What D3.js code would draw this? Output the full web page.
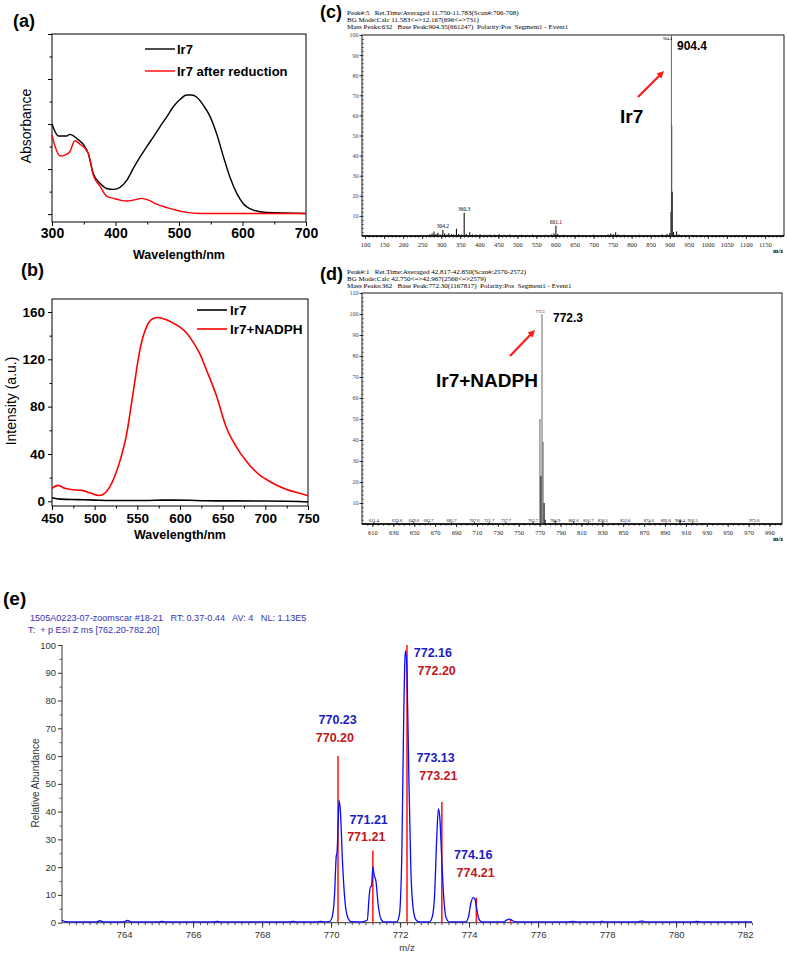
<!DOCTYPE html>
<html><head><meta charset="utf-8">
<script src="https://cdn.jsdelivr.net/npm/d3@7"></script>
<style>body{margin:0;background:#fff}svg{display:block}text{white-space:pre}</style>
</head><body>
<svg id="fig" width="787" height="953"></svg>
<script>
// ---------------- DATA ----------------
// (a) UV-vis absorbance [wavelength nm, absorbance a.u.]
const absIr7 = [[300,0.400],[310,0.347],[323,0.347],[328,0.354],[339,0.336],[352,0.299],[357,0.270],[365,0.181],[376,0.136],[386,0.114],[397,0.110],[407,0.119],[418,0.151],[428,0.203],[439,0.255],[449,0.299],[460,0.344],[470,0.388],[481,0.433],[491,0.477],[502,0.510],[512,0.529],[520,0.529],[528,0.519],[538,0.485],[549,0.433],[559,0.359],[570,0.255],[580,0.166],[591,0.092],[601,0.047],[617,0.018],[638,0.007],[700,0.003]];
const absIr7Reduced = [[300,0.351],[305,0.299],[313,0.258],[320,0.262],[328,0.277],[336,0.326],[344,0.311],[352,0.292],[357,0.270],[365,0.174],[376,0.122],[386,0.080],[397,0.070],[407,0.062],[418,0.058],[428,0.062],[441,0.070],[452,0.062],[465,0.044],[481,0.029],[496,0.017],[512,0.008],[533,0.003],[700,0.003]];
const absXTicks = [300,400,500,600,700];
const absLegend = ["Ir7","Ir7 after reduction"];

// (b) emission intensity [wavelength nm, intensity a.u.]
const flIr7 = [[450,3],[460,1.8],[480,1.4],[500,1],[530,0.6],[560,0.6],[580,1],[610,0.8],[630,0.4],[660,0.3],[700,0.2],[740,-0.2],[750,-0.6]];
const flIr7Nadph = [[450,11],[457,13.4],[465,11],[475,9.7],[485,9.2],[495,6.9],[505,4.9],[512,6.9],[520,15.4],[530,35],[537,55],[545,91.5],[553,128],[561,147.8],[568,154.3],[574,155.4],[584,153.4],[592,150.6],[600,147.2],[608,142],[615,135],[623,125],[631,111],[643,88.6],[654,63],[666,46],[678,33.6],[693,22.4],[700,19],[712,14],[725,10],[740,6.8],[750,4.6]];
const flXTicks = [450,500,550,600,650,700,750];
const flYTicks = [0,40,80,120,160];
const flLegend = ["Ir7","Ir7+NADPH"];

// (c) ESI-MS of Ir7 [m/z, relative intensity]
const msIr7Header = ["Peak#:5   Ret.Time:Averaged 11.750-11.783(Scan#:706-708)","BG Mode:Calc 11.583<=>12.167(696<=>731)","Mass Peaks:632   Base Peak:904.35(661247)  Polarity:Pos  Segment1 - Event1"];
const msIr7Peaks = [[270,0.8],[276,1.2],[281,2.2],[286,1.0],[291,1.6],[297,0.8],[304.2,3.0],[309,1.2],[315,0.8],[320,1.4],[327,0.9],[333,0.7],[340,3.6],[346,1.0],[353,0.8],[360.3,11.6],[366,1.0],[375,1.9],[382,0.8],[391,0.7],[402,0.9],[415,0.6],[428,0.8],[440,0.7],[452,0.9],[465,0.6],[480,0.7],[495,0.5],[510,0.6],[525,0.5],[540,0.7],[556,0.5],[575,0.6],[590,0.8],[596,1.4],[601.1,5.1],[606,1.0],[620,0.6],[640,0.5],[660,0.6],[680,0.5],[700,0.6],[720,0.5],[738,0.8],[745,1.2],[752,0.9],[758,1.9],[765,0.8],[780,0.6],[800,0.5],[820,0.6],[840,0.5],[860,0.6],[880,0.7],[893,1.0],[900,1.5],[903.4,12],[904.4,100],[905.4,55],[906.4,22],[910,2],[918,2.3],[925,0.8],[940,0.5],[960,0.4],[980,0.4],[1000,0.3]];
const msIr7Labels = [[304.2,3.0,"304.2"],[360.3,11.6,"360.3"],[601.1,5.1,"601.1"]];
const msIr7XTicks = [100,150,200,250,300,350,400,450,500,550,600,650,700,750,800,850,900,950,1000,1050,1100,1150];
const msIr7YTicks = [10,20,30,40,50,60,70,80,90,100];

// (d) ESI-MS of Ir7 + NADPH
const msNadphHeader = ["Peak#:1   Ret.Time:Averaged 42.817-42.850(Scan#:2570-2572)","BG Mode:Calc 42.750<=>42.967(2566<=>2579)","Mass Peaks:362   Base Peak:772.30(1167817)  Polarity:Pos  Segment1 - Event1"];
const msNadphPeaks = [[611.4,1.0],[633.6,0.8],[649.6,0.8],[663.7,0.8],[685.7,0.8],[707.6,0.8],[721.7,0.8],[737.7,0.8],[763.7,1.0],[770.3,50],[771.3,23],[772.3,100],[773.3,39],[774.3,10],[775.3,2],[784.9,1.6],[802.6,1.2],[816.7,0.8],[830.5,1.0],[852.0,0.6],[874.6,0.6],[891.0,0.7],[904.4,2.0],[916.5,0.8],[975.6,0.5]];
const msNadphLabels = ["611.4","633.6","649.6","663.7","685.7","707.6","721.7","737.7","763.7","784.9","802.6","816.7","830.5","852.0","874.6","891.0","904.4","916.5","975.6"];
const msNadphXTicks = [610,630,650,670,690,710,730,750,770,790,810,830,850,870,890,910,930,950,970,990];
const msNadphYTicks = [10,20,30,40,50,60,70,80,90,100,110];

// (e) HRMS: measured profile (blue) and theoretical isotope sticks (red)
const hrmsHeader = ["1505A0223-07-zoomscar #18-21   RT: 0.37-0.44   AV: 4   NL: 1.13E5","T:  + p ESI Z ms [762.20-782.20]"];
const hrmsProfile = [[762.2,0.9],[762.3,0.4],[762.5,0.3],[763.2,0.3],[763.3,0.7],[763.4,0.3],[764.0,0.3],[764.1,0.8],[764.2,0.3],[765.0,0.3],[765.1,0.5],[765.2,0.3],[766,0.3],[766.6,0.3],[766.7,0.5],[766.8,0.3],[768,0.3],[768.8,0.3],[768.9,0.5],[769,0.3],[769.6,0.3],[769.7,0.5],[769.8,0.3],[769.95,0.4],[770.03,2],[770.1,10],[770.15,24],[770.17,25],[770.19,30],[770.23,44],[770.27,40],[770.33,22],[770.4,8],[770.48,2],[770.58,0.4],[770.9,0.3],[771.05,1],[771.1,9],[771.14,13],[771.17,13],[771.21,20],[771.25,17],[771.3,15],[771.36,7],[771.44,1.5],[771.52,0.3],[771.9,0.3],[771.98,3],[772.05,25],[772.1,70],[772.14,95],[772.16,98],[772.2,90],[772.25,55],[772.31,20],[772.38,5],[772.46,1],[772.55,0.3],[772.85,0.3],[772.93,2],[773.0,10],[773.06,30],[773.11,41],[773.15,38],[773.2,25],[773.26,10],[773.33,2],[773.42,0.3],[773.9,0.3],[773.98,2],[774.05,7],[774.12,9],[774.17,8.5],[774.22,5],[774.28,1.5],[774.36,0.3],[775.0,0.3],[775.1,1],[775.17,1.3],[775.25,0.8],[775.35,0.3],[776.9,0.3],[777.0,0.5],[777.1,0.3],[777.8,0.3],[777.85,0.6],[777.9,0.3],[778.9,0.3],[779.0,0.6],[779.1,0.3],[780.5,0.3],[780.6,0.5],[780.7,0.3],[782.2,0.3]];
const hrmsTheory = [[770.20,60],[771.21,26],[772.20,100],[773.21,43.5],[774.21,9],[775.2,1]];
// measured-peak labels (blue): [m/z anchor, abundance anchor, text]
const hrmsMeasLabels = [[770.19,71.4,"770.23"],[771.09,35.5,"771.21"],[772.95,95.5,"772.16"],[773.03,58.0,"773.13"],[774.12,23.0,"774.16"]];
// theoretical-peak labels (red): [m/z anchor, abundance anchor, text]
const hrmsTheoLabels = [[770.11,65.0,"770.20"],[771.02,29.3,"771.21"],[773.06,89.1,"772.20"],[773.11,51.3,"773.21"],[774.19,16.5,"774.21"]];
const hrmsXTicks = [764,766,768,770,772,774,776,778,780,782];
const hrmsYTicks = [0,10,20,30,40,50,60,70,80,90,100];

// ---------------- DRAWING ----------------
const SANS = "'Liberation Sans', Arial, Helvetica, sans-serif";
const SERIF = "'Liberation Serif', 'Times New Roman', serif";
const svg = d3.select('#fig');

function addText(g, x, y, s, o = {}) {
  return g.append('text').attr('x', x).attr('y', y).text(s)
    .attr('font-family', o.family || SANS).attr('font-size', o.size || 12)
    .attr('font-weight', o.weight || 'normal').attr('fill', o.fill || '#000')
    .attr('text-anchor', o.anchor || 'start')
    .attr('transform', o.rotate ? `rotate(${o.rotate},${x},${y})` : null);
}
function styleAxis(sel, o) {
  sel.select('.domain').remove();
  sel.selectAll('.tick line').attr('stroke', o.stroke || '#000').attr('stroke-width', o.sw || 1);
  sel.selectAll('.tick text').attr('font-family', o.family || SANS).attr('font-size', o.size || 12)
    .attr('font-weight', o.weight || 'normal').attr('fill', o.fill || '#000');
}
function frame(g, xs, ys, sw) {
  const [x0, x1] = xs.range(), [y0, y1] = ys.range();
  g.append('rect').attr('x', x0).attr('y', y1).attr('width', x1 - x0).attr('height', y0 - y1)
    .attr('fill', 'none').attr('stroke', '#000').attr('stroke-width', sw || 1);
}
function minorRange(a, b, step) { const r = []; for (let v = a; v <= b + 1e-9; v += step) r.push(+v.toFixed(4)); return r; }

// ===== (a) =====
{
  const g = svg.append('g');
  const x = d3.scaleLinear().domain([300, 700]).range([52, 306]);
  const y = d3.scaleLinear().domain([-0.035, 0.8]).range([222, 34]);
  frame(g, x, y, 1);
  g.append('g').attr('transform', `translate(0,${y.range()[0]})`)
    .call(d3.axisBottom(x).tickValues(absXTicks).tickSize(4).tickSizeOuter(0).tickPadding(2))
    .call(styleAxis, { size: 14, weight: 'bold' });
  g.append('g').attr('transform', `translate(0,${y.range()[0]})`)
    .call(d3.axisBottom(x).tickValues(minorRange(350, 650, 100)).tickSize(2.5).tickFormat(''))
    .call(styleAxis, {});
  g.append('g').attr('transform', `translate(${x.range()[0]},0)`)
    .call(d3.axisLeft(y).tickValues(minorRange(0, 0.8, 0.2)).tickSize(4).tickFormat(''))
    .call(styleAxis, {});
  g.append('g').attr('transform', `translate(${x.range()[0]},0)`)
    .call(d3.axisLeft(y).tickValues(minorRange(0.1, 0.7, 0.2)).tickSize(2.5).tickFormat(''))
    .call(styleAxis, {});
  const line = d3.line().x(d => x(d[0])).y(d => y(d[1])).curve(d3.curveMonotoneX);
  g.append('path').datum(absIr7).attr('d', line).attr('fill', 'none').attr('stroke', '#000').attr('stroke-width', 1.4);
  g.append('path').datum(absIr7Reduced).attr('d', line).attr('fill', 'none').attr('stroke', '#ff0000').attr('stroke-width', 1.4);
  [['#000', 49], ['#ff0000', 71]].forEach((c, i) => {
    g.append('line').attr('x1', 145).attr('x2', 175).attr('y1', c[1]).attr('y2', c[1]).attr('stroke', c[0]).attr('stroke-width', 1.4);
    addText(g, 177, c[1] + 4.5, absLegend[i], { size: 13, weight: 'bold' });
  });
  addText(g, 13, 27, '(a)', { size: 18, weight: 'bold' });
  addText(g, 31, 126, 'Absorbance', { size: 14, anchor: 'middle', rotate: -90 });
  addText(g, 179, 259, 'Wavelength/nm', { size: 12.5, weight: 'bold', anchor: 'middle' });
}

// ===== (b) =====
{
  const g = svg.append('g');
  const x = d3.scaleLinear().domain([450, 750]).range([52, 308]);
  const y = d3.scaleLinear().domain([-4, 171]).range([506, 299]);
  frame(g, x, y, 1);
  g.append('g').attr('transform', `translate(0,${y.range()[0]})`)
    .call(d3.axisBottom(x).tickValues(flXTicks).tickSize(4).tickSizeOuter(0).tickPadding(3))
    .call(styleAxis, { size: 13.5, weight: 'bold' });
  g.append('g').attr('transform', `translate(0,${y.range()[0]})`)
    .call(d3.axisBottom(x).tickValues(minorRange(475, 725, 50)).tickSize(2.5).tickFormat(''))
    .call(styleAxis, {});
  g.append('g').attr('transform', `translate(${x.range()[0]},0)`)
    .call(d3.axisLeft(y).tickValues(flYTicks).tickSize(4).tickSizeOuter(0).tickPadding(3))
    .call(styleAxis, { size: 13.5, weight: 'bold' });
  g.append('g').attr('transform', `translate(${x.range()[0]},0)`)
    .call(d3.axisLeft(y).tickValues(minorRange(20, 140, 40)).tickSize(2.5).tickFormat(''))
    .call(styleAxis, {});
  const line = d3.line().x(d => x(d[0])).y(d => y(d[1])).curve(d3.curveMonotoneX);
  g.append('path').datum(flIr7).attr('d', line).attr('fill', 'none').attr('stroke', '#000').attr('stroke-width', 1.6);
  g.append('path').datum(flIr7Nadph).attr('d', line).attr('fill', 'none').attr('stroke', '#ff0000').attr('stroke-width', 1.6);
  [['#000', 310], ['#ff0000', 329]].forEach((c, i) => {
    g.append('line').attr('x1', 197).attr('x2', 227).attr('y1', c[1]).attr('y2', c[1]).attr('stroke', c[0]).attr('stroke-width', 1.6);
    addText(g, 230, c[1] + 5, flLegend[i], { size: 13.5, weight: 'bold' });
  });
  addText(g, 21, 276, '(b)', { size: 18, weight: 'bold' });
  addText(g, 16, 401, 'Intensity (a.u.)', { size: 14, anchor: 'middle', rotate: -90 });
  addText(g, 180, 539, 'Wavelength/nm', { size: 12.5, weight: 'bold', anchor: 'middle' });
}

// ===== mass-spec panels (c) & (d) =====
function msPanel(o) {
  const g = svg.append('g');
  const x = o.x, y = o.y;
  frame(g, x, y, 0.9);
  o.header.forEach((s, i) => addText(g, 347, o.headerY + i * 7, s, { family: SERIF, size: 7 }));
  addText(g, 320, o.labelY, o.label, { size: 18, weight: 'bold' });
  g.append('g').attr('transform', `translate(0,${y.range()[0]})`)
    .call(d3.axisBottom(x).tickValues(o.xTicks).tickSize(3).tickSizeOuter(0).tickPadding(3).tickFormat(d3.format('d')))
    .call(styleAxis, { family: SERIF, size: 6.5, fill: '#222', sw: 0.8 });
  g.append('g').attr('transform', `translate(0,${y.range()[0]})`)
    .call(d3.axisBottom(x).tickValues(o.xMinor).tickSize(1.8).tickFormat(''))
    .call(styleAxis, { sw: 0.6 });
  g.append('g').attr('transform', `translate(${x.range()[0]},0)`)
    .call(d3.axisLeft(y).tickValues(o.yTicks).tickSize(2.5).tickSizeOuter(0).tickPadding(1))
    .call(styleAxis, { family: SERIF, size: 6, fill: '#445', sw: 0.8 });
  g.append('g').attr('transform', `translate(${x.range()[0]},0)`)
    .call(d3.axisRight(y).tickValues(o.yMinor).tickSize(1.8).tickFormat(''))
    .call(styleAxis, { sw: 0.6 });
  g.append('line').attr('x1', x.range()[0]).attr('x2', x.range()[1]).attr('y1', y.range()[0]).attr('y2', y.range()[0])
    .attr('stroke', '#000').attr('stroke-width', 1.6);
  g.selectAll('line.pk').data(o.peaks).enter().append('line').attr('class', 'pk')
    .attr('x1', d => x(d[0])).attr('x2', d => x(d[0]))
    .attr('y1', y(0)).attr('y2', d => y(d[1]))
    .attr('stroke', d => d[1] > 30 ? '#555' : '#111').attr('stroke-width', d => d[1] > 30 ? 0.9 : 1.1);
  addText(g, 773, y.range()[0] + 17, 'm/z', { family: SERIF, size: 6.5, weight: 'bold' });
  return { g, x, y };
}
function arrow(g, x1, y1, x2, y2) {
  const a = Math.atan2(y2 - y1, x2 - x1), L = 7, W = 3.5;
  g.append('line').attr('x1', x1).attr('y1', y1).attr('x2', x2 - L * 0.8 * Math.cos(a)).attr('y2', y2 - L * 0.8 * Math.sin(a))
    .attr('stroke', '#ff1a1a').attr('stroke-width', 2.2);
  const p = [[x2, y2],
    [x2 - L * Math.cos(a) + W * Math.sin(a), y2 - L * Math.sin(a) - W * Math.cos(a)],
    [x2 - L * Math.cos(a) - W * Math.sin(a), y2 - L * Math.sin(a) + W * Math.cos(a)]];
  g.append('path').attr('d', 'M' + p.join('L') + 'Z').attr('fill', '#ff1a1a');
}

// (c)
{
  const P = msPanel({
    x: d3.scaleLinear().domain([92, 1200]).range([362, 784]),
    y: d3.scaleLinear().domain([0, 100]).range([236, 35]),
    header: msIr7Header, headerY: 14.5, label: '(c)', labelY: 17.5,
    xTicks: msIr7XTicks, xMinor: minorRange(100, 1190, 10),
    yTicks: msIr7YTicks, yMinor: minorRange(2, 98, 2),
    peaks: msIr7Peaks
  });
  msIr7Labels.forEach(d => addText(P.g, P.x(d[0]), P.y(d[1]) - 1.5, d[2], { family: SERIF, size: 5.5, anchor: 'middle' }));
  addText(P.g, P.x(904.4) - 4, 40, '904.4', { family: SERIF, size: 4, anchor: 'middle' });
  addText(P.g, 677, 50, '904.4', { size: 12, weight: 'bold' });
  addText(P.g, 620, 123, 'Ir7', { size: 19, weight: 'bold' });
  arrow(P.g, 638, 97, 664, 71);
}
// (d)
{
  const P = msPanel({
    x: d3.scaleLinear().domain([600, 1002]).range([362, 782]),
    y: d3.scaleLinear().domain([0, 110]).range([524, 293]),
    header: msNadphHeader, headerY: 274, label: '(d)', labelY: 280,
    xTicks: msNadphXTicks, xMinor: minorRange(605, 1000, 5),
    yTicks: msNadphYTicks, yMinor: minorRange(2, 108, 2),
    peaks: msNadphPeaks
  });
  const labelled = msNadphPeaks.filter(d => msNadphLabels.includes(d[0].toFixed(1)));
  labelled.forEach(d => addText(P.g, P.x(d[0]), 521.5, d[0].toFixed(1), { family: SERIF, size: 4.5, anchor: 'middle' }));
  addText(P.g, P.x(772.3) - 2, 312.5, '772.3', { family: SERIF, size: 4, anchor: 'middle' });
  addText(P.g, 553, 321.5, '772.3', { size: 12, weight: 'bold' });
  addText(P.g, 436, 386.5, 'Ir7+NADPH', { size: 19, weight: 'bold' });
  arrow(P.g, 510, 356, 535, 330);
}

// ===== (e) =====
{
  const g = svg.append('g');
  const x = d3.scaleLinear().domain([762.2, 782.2]).range([62, 752]);
  const y = d3.scaleLinear().domain([0, 100]).range([922.7, 645]);
  addText(g, 3, 605, '(e)', { size: 19, weight: 'bold' });
  addText(g, 30, 621, hrmsHeader[0], { size: 9.1, fill: '#3434b4' });
  addText(g, 28, 632.5, hrmsHeader[1], { size: 9.1, fill: '#3434b4' });
  g.append('g').attr('transform', `translate(0,${y.range()[0]})`)
    .call(d3.axisBottom(x).tickValues(hrmsXTicks).tickSize(5).tickSizeOuter(0).tickPadding(4))
    .call(styleAxis, { size: 9.5, fill: '#333', stroke: '#333' });
  g.append('g').attr('transform', `translate(0,${y.range()[0]})`)
    .call(d3.axisBottom(x).tickValues(minorRange(762.4, 782.2, 0.2)).tickSize(2.5).tickFormat(''))
    .call(styleAxis, { stroke: '#333', sw: 0.8 });
  g.append('g').attr('transform', `translate(${x.range()[0]},0)`)
    .call(d3.axisLeft(y).tickValues(hrmsYTicks).tickSize(4).tickSizeOuter(0).tickPadding(2))
    .call(styleAxis, { size: 9.5, fill: '#333', stroke: '#333' });
  g.append('g').attr('transform', `translate(${x.range()[0]},0)`)
    .call(d3.axisLeft(y).tickValues(minorRange(5, 95, 10)).tickSize(2.5).tickFormat(''))
    .call(styleAxis, { stroke: '#333', sw: 0.8 });
  g.append('line').attr('x1', x.range()[0]).attr('x2', x.range()[1]).attr('y1', y.range()[0]).attr('y2', y.range()[0]).attr('stroke', '#333');
  g.append('line').attr('x1', x.range()[0]).attr('x2', x.range()[0]).attr('y1', y.range()[0]).attr('y2', y.range()[1]).attr('stroke', '#333');
  addText(g, 38.5, 783, 'Relative Abundance', { size: 10, anchor: 'middle', rotate: -90, fill: '#333' });
  addText(g, 407, 951, 'm/z', { size: 9.5, anchor: 'middle', fill: '#333' });
  g.selectAll('line.st').data(hrmsTheory).enter().append('line')
    .attr('x1', d => x(d[0])).attr('x2', d => x(d[0])).attr('y1', y(0)).attr('y2', d => y(d[1]))
    .attr('stroke', '#ff1010').attr('stroke-width', 1.5);
  const line = d3.line().x(d => x(d[0])).y(d => y(d[1])).curve(d3.curveMonotoneX);
  g.append('path').datum(hrmsProfile).attr('d', line).attr('fill', 'none').attr('stroke', '#0a0aff').attr('stroke-width', 1.3);
  hrmsMeasLabels.forEach(d => addText(g, x(d[0]), y(d[1]), d[2], { size: 12.5, weight: 'bold', fill: '#1c1cc4', anchor: 'middle' }));
  hrmsTheoLabels.forEach(d => addText(g, x(d[0]), y(d[1]), d[2], { size: 12.5, weight: 'bold', fill: '#c0181c', anchor: 'middle' }));
}
</script>
</body></html>
